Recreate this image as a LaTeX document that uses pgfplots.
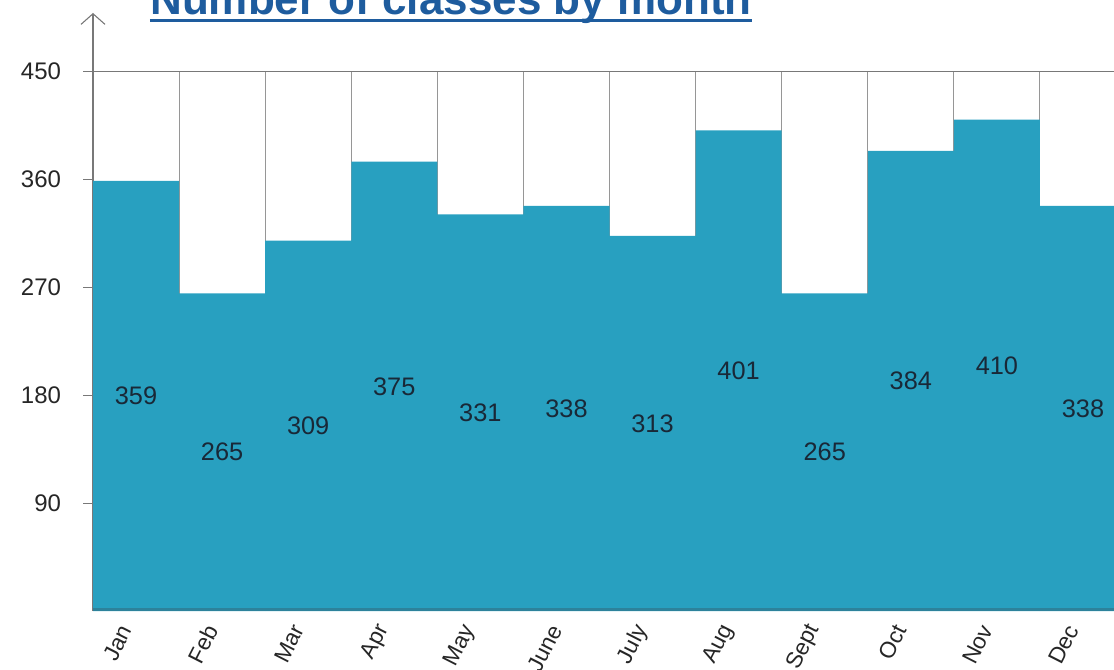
\documentclass[border=0pt]{standalone}
\usepackage{pgfplots}
\pgfplotsset{compat=1.18}
\usepackage{pgfplotstable}
\usepackage{fontspec}
\setmainfont{Liberation Sans}
\usetikzlibrary{arrows.meta}

\definecolor{barteal}{RGB}{40,160,192}
\definecolor{darkteal}{RGB}{45,130,155}
\definecolor{titleblue}{RGB}{30,92,158}
\definecolor{gridgray}{RGB}{150,150,150}
\definecolor{axisgray}{RGB}{120,120,120}
\definecolor{labelink}{RGB}{25,40,55}

% classes held per month
\pgfplotstableread{
idx month value
0  Jan   359
1  Feb   265
2  Mar   309
3  Apr   375
4  May   331
5  June  338
6  July  313
7  Aug   401
8  Sept  265
9  Oct   384
10 Nov   410
11 Dec   338
}\classes

\begin{document}
\begin{tikzpicture}[x=1pt,y=1pt]
\path[use as bounding box, clip] (0,0) rectangle (835.5,501.75);

\node[anchor=base, inner sep=0pt, text=titleblue,
      font=\fontsize{33}{36}\selectfont\bfseries] (title) at (338.25,490.5)
      {Number of classes by month};
\draw[titleblue, line width=2pt]
  ([yshift=-4pt]title.base west) -- ([yshift=-4pt]title.base east);

\begin{axis}[
  at={(69.75pt,43.5pt)}, anchor=south west,
  scale only axis, width=774.75pt, height=448.5pt,
  xmin=-0.5, xmax=11.5, ymin=0, ymax=499,
  clip=false,
  axis lines=left,
  x axis line style={draw=none},
  y axis line style={draw=axisgray, line width=1pt,
                     -{Straight Barb[length=8pt,width=18pt,line width=0.8pt]}},
  xtick={0,...,11},
  xticklabels={Jan,Feb,Mar,Apr,May,June,July,Aug,Sept,Oct,Nov,Dec},
  x tick style={draw=none},
  ytick={90,180,270,360,450},
  y tick style={draw=axisgray, line width=0.8pt},
  tick align=outside,
  major tick length=7.5pt,
  /pgf/number format/assume math mode=true,
  yticklabel style={font=\fontsize{18}{21}\selectfont, text=black!85, anchor=east, xshift=-13pt},
  xticklabel style={font=\fontsize{17}{20}\selectfont, text=black!85, rotate=63, anchor=east,
                    inner sep=1pt, xshift=-6pt, yshift=5pt},
]
% column separators behind the bars
\pgfplotsinvokeforeach{0.5,1.5,2.5,3.5,4.5,5.5,6.5,7.5,8.5,9.5,10.5}{
  \draw[gridgray, line width=0.8pt] (axis cs:#1,0) -- (axis cs:#1,450);
}
\draw[axisgray, line width=0.8pt] ([xshift=-7.5pt]axis cs:-0.5,450) -- (axis cs:12,450);

\addplot[ybar, bar width=64.5625pt, fill=barteal, draw=none]
  table[x=idx, y=value] {\classes};

\draw[darkteal, line width=2pt] (axis cs:-0.5,1) -- (axis cs:12,1);

% value labels placed at half the bar height
\addplot[draw=none, mark=none, nodes near coords, point meta=explicit,
  every node near coord/.append style={anchor=center, text=labelink,
    font=\fontsize{19}{22}\selectfont}]
  table[x=idx, y expr=\thisrow{value}/2, meta=value] {\classes};
\end{axis}
\end{tikzpicture}
\end{document}
